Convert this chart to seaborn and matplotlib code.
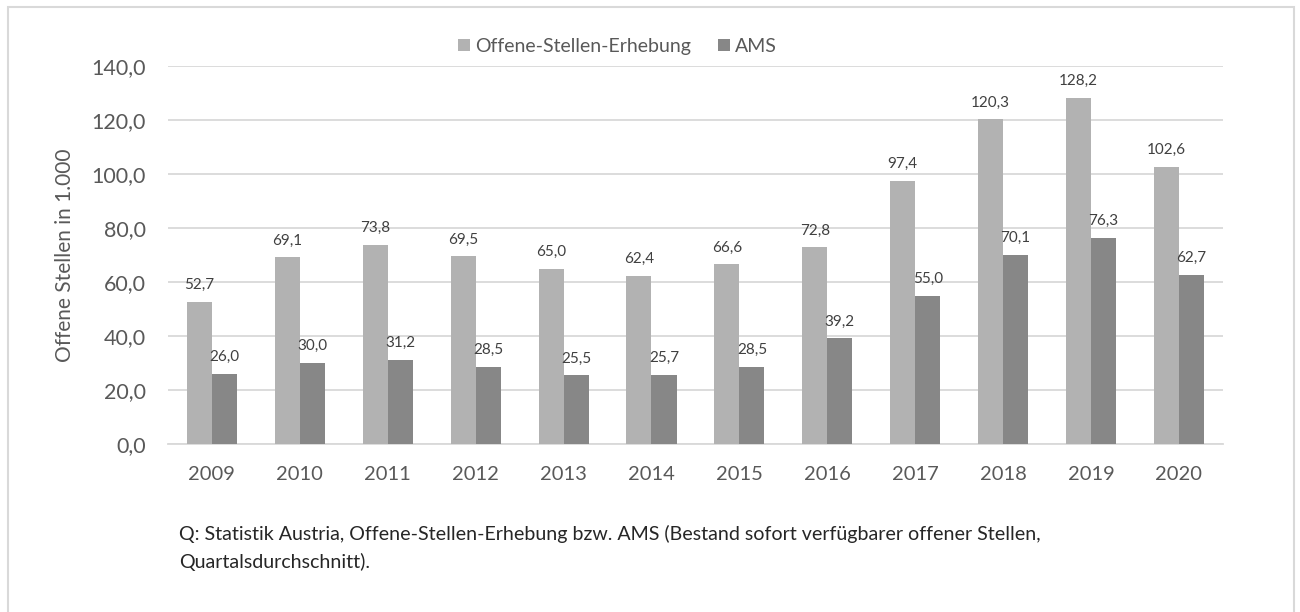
import matplotlib
matplotlib.use("Agg")
import matplotlib.pyplot as plt
import seaborn as sns
import pandas as pd
from matplotlib.patches import Rectangle

years = ["2009", "2010", "2011", "2012", "2013", "2014", "2015", "2016", "2017", "2018", "2019", "2020"]
ose = [52.7, 69.1, 73.8, 69.5, 65.0, 62.4, 66.6, 72.8, 97.4, 120.3, 128.2, 102.6]
ams = [26.0, 30.0, 31.2, 28.5, 25.5, 25.7, 28.5, 39.2, 55.0, 70.1, 76.3, 62.7]
series_names = ["Offene-Stellen-Erhebung", "AMS"]
yticks = [0, 20, 40, 60, 80, 100, 120, 140]
ylabel = "Offene Stellen in 1.000"
footnote = ("Q: Statistik Austria, Offene-Stellen-Erhebung bzw. AMS (Bestand sofort verfügbarer offener Stellen,\n"
            "Quartalsdurchschnitt).")

df = pd.DataFrame({
    "Jahr": years * 2,
    "Wert": ose + ams,
    "Serie": [series_names[0]] * len(years) + [series_names[1]] * len(years),
})

sns.set_theme(style="white")
plt.rcParams["font.family"] = ["Lato", "DejaVu Sans"]
txt = "#595959"
grid = "#D9D9D9"
colors = ["#B2B2B2", "#878787"]

fig = plt.figure(figsize=(13, 6.12), dpi=100)
fig.patches.append(Rectangle((0.006, -0.05), 0.989, 1.038, transform=fig.transFigure,
                             fill=False, edgecolor=grid, linewidth=1.5))
ax = fig.add_axes([0.1292, 0.2745, 0.8115, 0.6176])

sns.barplot(data=df, x="Jahr", y="Wert", hue="Serie", palette=colors, width=0.57,
            saturation=1, ax=ax, legend=True, zorder=3, linewidth=0)

ax.set_ylim(0, 140)
ax.set_yticks(yticks)
ax.set_yticklabels([f"{v:.1f}".replace(".", ",") for v in yticks], color=txt, fontsize=15.5)
ax.tick_params(axis="x", colors=txt, labelsize=14.5, length=0, pad=16)
ax.tick_params(axis="y", length=0, pad=16)
ax.set_xlabel("")
ax.set_ylabel(ylabel, color=txt, fontsize=15, labelpad=12)
ax.yaxis.grid(True, color=grid, linewidth=1.3, zorder=0)
for s in ["top", "right", "left"]:
    ax.spines[s].set_visible(False)
ax.spines["bottom"].set_color(grid)
ax.spines["bottom"].set_linewidth(1.3)
ax.set_xlim(-0.5, len(years) - 0.5)

for cont in ax.containers:
    ax.bar_label(cont, labels=[f"{v:.1f}".replace(".", ",") for v in cont.datavalues],
                 padding=7, color="#404040", fontsize=11)

handles, labels = ax.get_legend_handles_labels()
ax.legend(handles, labels, loc="center", bbox_to_anchor=(0.426, 1.052), ncol=2,
          frameon=False, fontsize=14, labelcolor=txt, handlelength=0.6, handleheight=0.6,
          handletextpad=0.25, columnspacing=1.4)

fig.text(0.138, 0.143, footnote, color="#262626", fontsize=14.1, va="top", linespacing=1.7)

fig.savefig("out.png", dpi=100)
